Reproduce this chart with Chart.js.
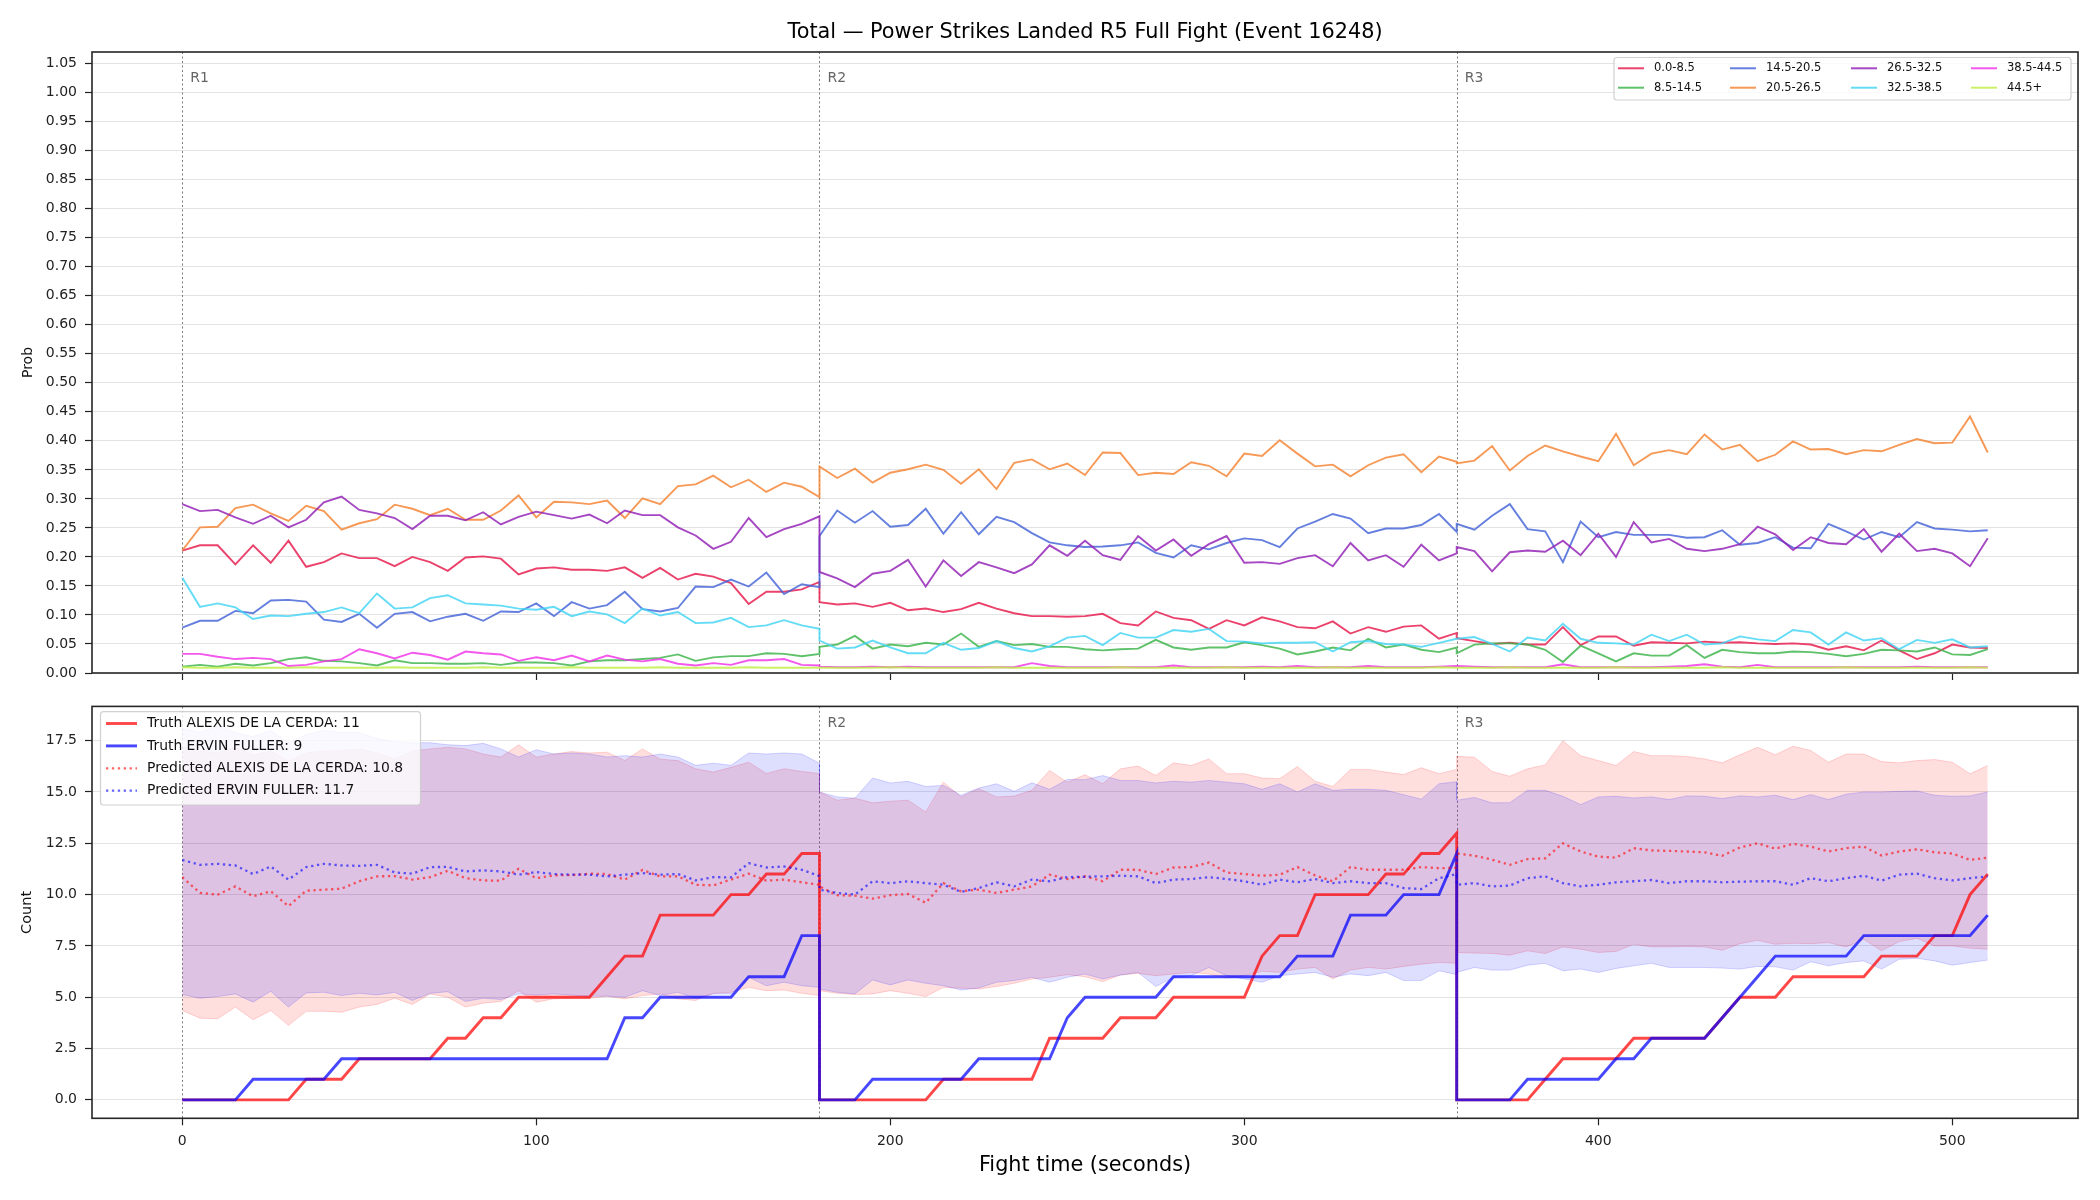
<!DOCTYPE html>
<html><head><meta charset="utf-8">
<script src="https://cdn.jsdelivr.net/npm/chart.js@4.4.1/dist/chart.umd.min.js"></script>
<style>
html,body{margin:0;padding:0;background:#fff;}
#wrap{position:relative;width:2100px;height:1200px;background:#fff;}
canvas{position:absolute;left:0;}
#c1{top:0;} #c2{top:690px;}
</style></head><body>
<div id="wrap"><canvas id="c1" width="2100" height="690"></canvas><canvas id="c2" width="2100" height="510"></canvas></div>
<script>
// ---------------- DATA ----------------
const TITLE = 'Total \u2014 Power Strikes Landed R5 Full Fight (Event 16248)';
const X_LABEL = 'Fight time (seconds)';
const Y_LABEL_TOP = 'Prob';
const Y_LABEL_BOTTOM = 'Count';
const ROUND_STARTS = [0, 180, 360];
const ROUND_LABELS = ['R1', 'R2', 'R3'];
const X_TICKS = [0, 100, 200, 300, 400, 500];
const PROB_TICKS = [0,0.05,0.1,0.15,0.2,0.25,0.3,0.35,0.4,0.45,0.5,0.55,0.6,0.65,0.7,0.75,0.8,0.85,0.9,0.95,1.0,1.05];
const COUNT_TICKS = [0, 2.5, 5, 7.5, 10, 12.5, 15, 17.5];

const T_R1 = [0,5,10,15,20,25,30,35,40,45,50,55,60,65,70,75,80,85,90,95,100,105,110,115,120,125,130,135,140,145,150,155,160,165,170,175,180];
const T_R2 = [180,185,190,195,200,205,210,215,220,225,230,235,240,245,250,255,260,265,270,275,280,285,290,295,300,305,310,315,320,325,330,335,340,345,350,355,360];
const T_R3 = [360,365,370,375,380,385,390,395,400,405,410,415,420,425,430,435,440,445,450,455,460,465,470,475,480,485,490,495,500,505,510];

const BIN_LABELS = ['0.0-8.5','8.5-14.5','14.5-20.5','20.5-26.5','26.5-32.5','32.5-38.5','38.5-44.5','44.5+'];

const BIN_0_8 = [
 .211,.220,.220,.187,.220,.190,.228,.183,.191,.206,.198,.198,.184,.200,.191,.176,.199,.201,.197,.170,.180,.182,.178,.178,.176,.182,.164,.181,.161,.171,.166,.155,.119,.140,.140,.144,.157,
 .122,.118,.120,.114,.121,.108,.111,.105,.110,.121,.111,.103,.098,.098,.097,.098,.102,.086,.082,.106,.095,.091,.076,.091,.082,.096,.089,.079,.077,.089,.068,.079,.071,.080,.082,.059,.069,
 .060,.055,.050,.052,.049,.049,.079,.048,.063,.063,.047,.053,.052,.051,.054,.052,.053,.051,.050,.051,.049,.040,.046,.039,.056,.039,.024,.034,.049,.044,.043];
const BIN_8_14 = [
 .011,.014,.011,.016,.013,.017,.024,.027,.021,.020,.017,.013,.022,.017,.017,.016,.016,.017,.014,.018,.018,.017,.013,.020,.022,.022,.024,.026,.032,.021,.027,.029,.029,.034,.033,.029,.033,
 .045,.049,.064,.042,.049,.046,.052,.049,.068,.045,.055,.048,.050,.045,.045,.041,.039,.041,.042,.057,.044,.040,.044,.044,.053,.048,.042,.032,.037,.044,.039,.059,.044,.049,.040,.036,.044,
 .034,.049,.051,.051,.049,.040,.019,.047,.034,.020,.034,.030,.030,.048,.026,.040,.036,.034,.034,.037,.036,.033,.029,.033,.040,.039,.037,.044,.032,.031,.041];
const BIN_14_20 = [
 .078,.090,.090,.107,.103,.125,.126,.123,.092,.088,.102,.078,.102,.105,.089,.097,.102,.090,.106,.105,.120,.098,.122,.111,.117,.140,.110,.106,.112,.149,.148,.161,.149,.173,.136,.153,.148,
 .236,.280,.259,.279,.252,.255,.283,.240,.277,.239,.269,.260,.241,.225,.220,.217,.218,.220,.225,.207,.199,.220,.213,.224,.232,.229,.217,.249,.261,.274,.266,.241,.249,.249,.255,.274,.243,
 .257,.247,.271,.291,.248,.244,.191,.261,.234,.243,.238,.238,.238,.233,.234,.246,.221,.224,.234,.216,.215,.257,.244,.230,.243,.234,.260,.249,.247,.244,.246];
const BIN_20_26 = [
 .211,.251,.252,.284,.290,.275,.262,.288,.279,.247,.258,.265,.290,.283,.272,.283,.264,.264,.280,.306,.268,.295,.294,.291,.297,.267,.301,.291,.322,.325,.340,.320,.333,.312,.328,.321,.303,
 .356,.336,.352,.328,.345,.351,.359,.350,.326,.351,.317,.362,.368,.351,.361,.341,.380,.379,.341,.345,.343,.363,.357,.339,.378,.374,.401,.378,.356,.359,.339,.358,.371,.377,.346,.373,.364,
 .361,.366,.391,.349,.374,.392,.382,.373,.365,.412,.358,.378,.384,.377,.411,.385,.393,.365,.376,.399,.385,.386,.377,.384,.382,.393,.403,.396,.397,.442,.380];
const BIN_26_32 = [
 .291,.279,.281,.268,.257,.271,.251,.264,.294,.304,.281,.275,.267,.248,.271,.271,.263,.277,.256,.269,.278,.272,.266,.273,.258,.280,.272,.272,.251,.237,.214,.226,.267,.234,.248,.257,.270,
 .174,.163,.148,.171,.176,.195,.149,.194,.167,.191,.182,.172,.187,.220,.202,.228,.203,.195,.236,.211,.230,.202,.222,.236,.190,.191,.188,.198,.203,.184,.224,.194,.203,.183,.221,.194,.206,
 .217,.210,.175,.208,.211,.209,.228,.203,.240,.200,.260,.225,.231,.214,.210,.214,.222,.252,.239,.212,.234,.224,.222,.248,.209,.240,.210,.214,.206,.184,.232];
const BIN_32_38 = [
 .164,.114,.120,.113,.093,.099,.098,.102,.105,.113,.103,.137,.111,.113,.129,.134,.120,.118,.116,.111,.109,.114,.098,.106,.101,.086,.111,.099,.105,.086,.087,.095,.079,.082,.091,.082,.076,
 .056,.042,.044,.056,.044,.034,.034,.052,.040,.043,.055,.043,.037,.046,.061,.064,.048,.069,.061,.061,.074,.071,.076,.055,.054,.051,.052,.052,.053,.037,.053,.055,.050,.049,.045,.052,.059,
 .059,.062,.050,.037,.061,.056,.085,.059,.052,.051,.049,.066,.055,.066,.049,.051,.063,.058,.055,.074,.070,.049,.070,.056,.060,.041,.057,.052,.058,.044,.046];
const BIN_38_44 = [
 .033,.033,.028,.024,.026,.024,.012,.014,.020,.024,.041,.034,.025,.035,.031,.023,.037,.034,.032,.021,.027,.022,.030,.020,.030,.023,.020,.024,.016,.013,.017,.014,.022,.022,.024,.014,.013,
 .011,.010,.010,.011,.010,.011,.010,.010,.010,.010,.010,.010,.017,.012,.010,.010,.010,.010,.010,.010,.013,.010,.010,.010,.010,.011,.010,.012,.010,.010,.010,.012,.010,.010,.010,.011,.012,
 .012,.011,.010,.010,.010,.010,.015,.010,.010,.010,.010,.010,.011,.012,.015,.011,.010,.014,.010,.010,.010,.010,.010,.010,.010,.010,.011,.010,.010,.010,.010];
const BIN_44P = [
 .010,.009,.009,.010,.009,.009,.009,.010,.009,.009,.009,.009,.010,.009,.009,.009,.009,.010,.009,.009,.009,.009,.010,.009,.009,.009,.009,.010,.009,.009,.009,.009,.010,.009,.009,.009,.009,
 .009,.009,.009,.009,.010,.009,.009,.009,.009,.009,.010,.009,.009,.009,.009,.009,.009,.010,.009,.009,.009,.009,.009,.010,.009,.009,.009,.009,.009,.010,.009,.009,.009,.009,.009,.010,.009,
 .009,.009,.009,.010,.009,.009,.009,.009,.009,.010,.009,.009,.009,.009,.009,.010,.009,.009,.009,.009,.009,.009,.010,.009,.009,.009,.009,.009,.009,.010,.009];

const FIGHTER_A = 'ALEXIS DE LA CERDA';
const FIGHTER_B = 'ERVIN FULLER';
const LEGEND_BOTTOM = ['Truth ALEXIS DE LA CERDA: 11','Truth ERVIN FULLER: 9','Predicted ALEXIS DE LA CERDA: 10.8','Predicted ERVIN FULLER: 11.7'];

const TRUTH_A = [
 0,0,0,0,0,0,0,1,1,1,2,2,2,2,2,3,3,4,4,5,5,5,5,5,6,7,7,9,9,9,9,10,10,11,11,12,12,
 0,0,0,0,0,0,0,1,1,1,1,1,1,3,3,3,3,4,4,4,5,5,5,5,5,7,8,8,10,10,10,10,11,11,12,12,13,
 0,0,0,0,0,1,2,2,2,2,3,3,3,3,3,4,5,5,5,6,6,6,6,6,7,7,7,8,8,10,11];
const TRUTH_B = [
 0,0,0,0,1,1,1,1,1,2,2,2,2,2,2,2,2,2,2,2,2,2,2,2,2,4,4,5,5,5,5,5,6,6,6,8,8,
 0,0,0,1,1,1,1,1,1,2,2,2,2,2,4,5,5,5,5,5,6,6,6,6,6,6,6,7,7,7,9,9,9,10,10,10,12,
 0,0,0,0,1,1,1,1,1,2,2,3,3,3,3,4,5,6,7,7,7,7,7,8,8,8,8,8,8,8,9];
const PRED_A = [
 10.85,10.08,10.0,10.4,9.92,10.16,9.44,10.19,10.24,10.29,10.65,10.89,10.9,10.73,10.85,11.16,10.8,10.69,10.68,11.26,10.8,10.94,10.95,11.02,11.0,10.73,11.2,10.89,10.89,10.48,10.45,10.73,11.02,10.68,10.73,10.6,10.48,
 10.4,9.97,9.95,9.8,9.97,10.03,9.6,10.56,10.16,10.24,10.08,10.24,10.4,10.97,10.76,10.89,10.65,11.21,11.21,11.0,11.32,11.34,11.56,11.08,11.0,10.92,10.97,11.34,10.94,10.65,11.34,11.21,11.21,11.21,11.34,11.29,11.3,
 12.0,11.9,11.7,11.45,11.73,11.77,12.5,12.1,11.85,11.8,12.26,12.15,12.13,12.1,12.06,11.89,12.3,12.5,12.24,12.47,12.34,12.1,12.26,12.34,11.9,12.1,12.21,12.06,12.0,11.69,11.8];
const PRED_B = [
 11.69,11.45,11.5,11.42,11.0,11.37,10.73,11.34,11.5,11.42,11.4,11.45,11.08,11.02,11.34,11.35,11.13,11.18,11.13,10.97,11.1,11.0,10.97,10.97,10.89,10.97,11.05,10.97,11.0,10.69,10.85,10.84,11.53,11.32,11.37,11.21,10.9,
 10.24,10.08,10.0,10.65,10.56,10.65,10.56,10.48,10.13,10.32,10.6,10.4,10.73,10.65,10.85,10.87,10.89,10.92,10.89,10.56,10.73,10.76,10.85,10.76,10.65,10.48,10.73,10.6,10.76,10.56,10.65,10.56,10.56,10.32,10.27,10.8,11.0,
 10.48,10.56,10.4,10.44,10.8,10.89,10.56,10.4,10.48,10.6,10.65,10.71,10.56,10.65,10.65,10.6,10.63,10.65,10.65,10.48,10.8,10.65,10.8,10.92,10.68,10.97,11.02,10.8,10.69,10.8,10.89];
const HI_A = [
 17.2,17.0,16.9,17.2,16.8,17.0,16.5,16.9,17.0,17.0,17.1,16.9,16.6,17.0,17.1,17.18,17.1,16.85,16.7,17.3,16.7,16.85,16.97,16.9,16.94,16.53,17.1,16.6,16.53,16.13,15.97,16.2,16.45,15.9,16.13,16.0,15.9,
 15.0,14.6,14.7,14.47,14.55,14.6,14.03,15.48,14.76,15.16,14.76,14.8,15.08,16.05,15.48,15.84,15.4,16.13,16.26,15.8,16.42,16.29,16.61,15.89,15.89,15.68,15.65,16.24,15.52,15.27,16.1,16.1,15.97,15.85,16.18,15.89,16.1,
 16.74,16.69,16.0,15.77,16.13,16.32,17.5,16.77,16.53,16.29,16.97,16.77,16.77,16.73,16.61,16.42,16.81,17.18,16.81,17.23,17.02,16.45,16.85,16.85,16.48,16.42,16.53,16.58,16.45,15.89,16.29];
const LO_A = [
 4.35,3.98,3.95,4.52,3.9,4.35,3.63,4.31,4.32,4.27,4.52,4.65,4.95,4.65,5.16,5.0,4.52,4.71,4.79,5.32,4.76,4.92,4.95,4.95,5.05,4.92,5.08,5.16,4.92,4.84,5.19,5.24,5.48,5.32,5.35,5.19,5.08,
 5.32,5.19,5.13,5.16,5.32,5.19,5.03,5.48,5.44,5.4,5.52,5.68,5.89,5.97,6.1,6.0,5.76,6.08,6.16,6.05,6.13,6.21,6.13,5.94,6.05,6.26,6.21,6.37,6.45,5.89,6.32,6.45,6.37,6.5,6.61,6.69,6.65,
 7.18,7.15,7.13,7.05,7.26,7.13,7.45,7.34,7.18,7.23,7.58,7.45,7.45,7.47,7.45,7.29,7.61,7.77,7.58,7.63,7.61,7.66,7.45,7.82,7.26,7.71,7.87,7.5,7.5,7.39,7.34];
const HI_B = [
 18.1,17.9,18.2,17.9,17.7,18.0,17.4,17.8,18.0,17.9,17.9,17.6,17.45,17.4,17.4,17.3,17.26,17.37,17.1,16.7,17.06,16.85,16.9,16.85,16.7,16.77,16.7,16.85,16.7,16.3,16.4,16.3,16.9,16.85,16.9,16.85,16.4,
 15.0,14.76,14.7,15.68,15.44,15.52,15.27,15.32,14.84,15.19,15.4,15.03,15.45,15.13,15.61,15.6,15.8,15.56,15.56,15.44,15.52,15.48,15.56,15.48,15.4,15.13,15.4,15.0,15.4,15.08,15.13,15.13,15.08,14.87,14.65,15.4,15.5,
 14.6,14.73,14.47,14.48,15.08,15.08,14.79,14.39,14.76,14.79,14.71,14.76,14.63,14.81,14.79,14.68,14.81,14.76,14.84,14.63,14.87,14.63,14.89,15.0,15.0,15.03,15.05,14.84,14.79,14.81,15.0];
const LO_B = [
 5.13,4.95,5.03,5.16,4.76,5.29,4.52,5.21,5.24,5.08,5.19,5.11,5.24,4.84,5.19,5.27,4.79,4.95,4.89,5.16,5.11,5.16,5.1,5.05,5.05,5.0,5.32,5.08,5.24,4.95,5.16,5.16,5.97,5.56,5.73,5.56,5.48,
 5.4,5.24,5.16,5.84,5.6,5.84,5.68,5.56,5.35,5.45,5.73,5.81,5.97,5.73,5.97,6.13,5.89,6.08,6.21,5.52,5.97,6.05,6.45,6.05,5.89,5.73,6.05,6.13,6.21,5.97,6.13,6.05,6.21,5.81,5.81,6.29,6.1,
 6.21,6.45,6.32,6.32,6.56,6.65,6.29,6.37,6.21,6.4,6.53,6.65,6.45,6.45,6.45,6.42,6.37,6.5,6.48,6.32,6.73,6.53,6.69,6.77,6.37,6.85,6.9,6.77,6.56,6.69,6.81];

// ---------------- BUILD ----------------
const T = T_R1.concat(T_R2, T_R3);
const xy = ys => T.map((t, i) => ({x: t, y: ys[i]}));
const FONT = "'DejaVu Sans', 'Liberation Sans', sans-serif";
const BIN_SERIES = [BIN_0_8, BIN_8_14, BIN_14_20, BIN_20_26, BIN_26_32, BIN_32_38, BIN_38_44, BIN_44P];
const BIN_COLORS = ['rgba(230,25,75,0.82)','rgba(60,180,75,0.82)','rgba(67,99,216,0.82)','rgba(245,130,49,0.82)',
                    'rgba(145,30,180,0.82)','rgba(66,212,244,0.82)','rgba(240,50,230,0.82)','rgba(191,239,69,0.82)'];

function drawFrame(chart){
  const {ctx, chartArea: a} = chart;
  ctx.save(); ctx.strokeStyle = '#262626'; ctx.lineWidth = 1.6; ctx.setLineDash([]);
  ctx.strokeRect(a.left, a.top, a.right - a.left, a.bottom - a.top); ctx.restore();
}
function drawRoundLines(chart){
  const {ctx, chartArea: a} = chart; const xs = chart.scales.x;
  ctx.save(); ctx.strokeStyle = 'rgba(80,80,80,0.75)'; ctx.lineWidth = 1; ctx.setLineDash([2, 2.5]);
  ROUND_STARTS.forEach(t => { const px = Math.round(xs.getPixelForValue(t)) + 0.5;
    ctx.beginPath(); ctx.moveTo(px, a.top); ctx.lineTo(px, a.bottom); ctx.stroke(); });
  ctx.restore();
}
function drawRoundLabels(chart, yc, skipFirst){
  const {ctx} = chart; const xs = chart.scales.x;
  ctx.save(); ctx.fillStyle = '#666'; ctx.font = '14px ' + FONT; ctx.textBaseline = 'middle'; ctx.textAlign = 'left';
  ROUND_STARTS.forEach((t, i) => { if (skipFirst && i === 0) return; ctx.fillText(ROUND_LABELS[i], xs.getPixelForValue(t) + 8, yc); });
  ctx.restore();
}
function vText(ctx, text, x, y, size){
  ctx.save(); ctx.translate(x, y); ctx.rotate(-Math.PI/2); ctx.fillStyle = '#111';
  ctx.font = size + 'px ' + FONT; ctx.textAlign = 'center'; ctx.textBaseline = 'middle'; ctx.fillText(text, 0, 0); ctx.restore();
}
function legendBox(ctx, x, y, w, h){
  ctx.save(); ctx.fillStyle = 'rgba(255,255,255,0.8)'; ctx.strokeStyle = 'rgba(204,204,204,0.9)'; ctx.lineWidth = 1.2;
  ctx.beginPath(); ctx.roundRect(x, y, w, h, 3); ctx.fill(); ctx.stroke(); ctx.restore();
}

// ---------------- TOP CHART ----------------
const topPlugin = {
  id: 'topDeco',
  beforeDatasetsDraw(chart){ drawRoundLines(chart); },
  afterDatasetsDraw(chart){ drawRoundLabels(chart, 78.5, false); },
  afterDraw(chart){
    const ctx = chart.ctx; const a = chart.chartArea;
    drawFrame(chart);
    ctx.save(); ctx.fillStyle = '#000'; ctx.font = '20.8px ' + FONT; ctx.textAlign = 'center'; ctx.textBaseline = 'middle';
    ctx.fillText(TITLE, (a.left + a.right) / 2, 33); ctx.restore();
    vText(ctx, Y_LABEL_TOP, 28, (a.top + a.bottom) / 2, 14);
    // legend (4 columns, column-major like the reference)
    legendBox(ctx, 1614, 57.5, 457, 42.5);
    const colX = [1618, 1730, 1851, 1971], rowY = [68.3, 87.7];
    chart.data.datasets.forEach((ds, i) => {
      const c = Math.floor(i / 2), r = i % 2; const x = colX[c], y = rowY[r];
      ctx.save(); ctx.strokeStyle = ds.borderColor; ctx.lineWidth = 2; ctx.beginPath(); ctx.moveTo(x, y); ctx.lineTo(x + 26, y); ctx.stroke();
      ctx.fillStyle = '#111'; ctx.font = '11.5px ' + FONT; ctx.textBaseline = 'middle'; ctx.fillText(ds.label, x + 36, y); ctx.restore();
    });
  }
};

new Chart(document.getElementById('c1'), {
  type: 'line',
  data: { datasets: BIN_SERIES.map((s, i) => ({
    label: BIN_LABELS[i], data: xy(s), borderColor: BIN_COLORS[i], backgroundColor: BIN_COLORS[i],
    borderWidth: 1.9, pointRadius: 0, tension: 0, fill: false, order: BIN_SERIES.length - i })) },
  options: {
    responsive: false, animation: false, devicePixelRatio: 1, events: [],
    layout: { padding: { top: 52, left: 0, right: 22, bottom: 0 } },
    plugins: { legend: { display: false }, tooltip: { enabled: false }, title: { display: false } },
    scales: {
      x: { type: 'linear', min: -25.5, max: 535.5, bounds: 'data',
        afterBuildTicks: s => { s.ticks = X_TICKS.map(v => ({value: v})); },
        afterFit: s => { s.height = 17; },
        grid: { drawOnChartArea: false, drawTicks: true, tickLength: 7, tickColor: '#222', tickWidth: 1.2 },
        border: { display: false }, ticks: { display: false } },
      y: { type: 'linear', min: 0, max: 1.07, bounds: 'data',
        afterBuildTicks: s => { s.ticks = PROB_TICKS.map(v => ({value: v})); },
        afterFit: s => { s.width = 92; },
        grid: { color: '#e3e3e3', lineWidth: 1, tickLength: 7, tickColor: '#222', tickWidth: 1.2 },
        border: { display: false },
        ticks: { padding: 8, color: '#222', font: { family: FONT, size: 14 }, callback: v => Number(v).toFixed(2) } }
    }
  },
  plugins: [topPlugin]
});

// ---------------- BOTTOM CHART ----------------
const RED_LINE = 'rgba(255,0,0,0.72)', BLUE_LINE = 'rgba(0,0,255,0.72)';
const RED_PRED = 'rgba(255,0,0,0.6)', BLUE_PRED = 'rgba(0,0,255,0.6)';
const bottomDatasets = [
  { label: LEGEND_BOTTOM[0], data: xy(TRUTH_A), borderColor: RED_LINE, borderWidth: 2.9, order: 3 },
  { label: LEGEND_BOTTOM[1], data: xy(TRUTH_B), borderColor: BLUE_LINE, borderWidth: 2.9, order: 2 },
  { label: LEGEND_BOTTOM[2], data: xy(PRED_A), borderColor: RED_PRED, borderWidth: 2.3, borderDash: [2.3, 3.6], order: 1 },
  { label: LEGEND_BOTTOM[3], data: xy(PRED_B), borderColor: BLUE_PRED, borderWidth: 2.3, borderDash: [2.3, 3.6], order: 0 },
  { label: FIGHTER_A + ' hi', data: xy(HI_A), borderColor: 'rgba(255,0,0,0.16)', borderWidth: 1, backgroundColor: 'rgba(255,0,0,0.13)', fill: 5, order: 9 },
  { label: FIGHTER_A + ' lo', data: xy(LO_A), borderColor: 'rgba(255,0,0,0.16)', borderWidth: 1, order: 8 },
  { label: FIGHTER_B + ' hi', data: xy(HI_B), borderColor: 'rgba(0,0,255,0.16)', borderWidth: 1, backgroundColor: 'rgba(0,0,255,0.13)', fill: 7, order: 7 },
  { label: FIGHTER_B + ' lo', data: xy(LO_B), borderColor: 'rgba(0,0,255,0.16)', borderWidth: 1, order: 6 }
].map(d => Object.assign({ pointRadius: 0, tension: 0, fill: false }, d));

const bottomPlugin = {
  id: 'bottomDeco',
  beforeDatasetsDraw(chart){ drawRoundLines(chart); },
  afterDatasetsDraw(chart){ drawRoundLabels(chart, 33.5, true); },
  afterDraw(chart){
    const ctx = chart.ctx; const a = chart.chartArea;
    drawFrame(chart);
    vText(ctx, Y_LABEL_BOTTOM, 27, (a.top + a.bottom) / 2, 14.5);
    ctx.save(); ctx.fillStyle = '#000'; ctx.font = '20.8px ' + FONT; ctx.textAlign = 'center'; ctx.textBaseline = 'middle';
    ctx.fillText(X_LABEL, (a.left + a.right) / 2, 476); ctx.restore();
    legendBox(ctx, 100.5, 21.7, 320, 93.3);
    for (let i = 0; i < 4; i++) {
      const ds = chart.data.datasets[i]; const y = 33.5 + 22.4 * i;
      ctx.save(); ctx.strokeStyle = ds.borderColor; ctx.lineWidth = ds.borderWidth; ctx.setLineDash(ds.borderDash || []);
      ctx.beginPath(); ctx.moveTo(106, y); ctx.lineTo(137, y); ctx.stroke(); ctx.setLineDash([]);
      ctx.fillStyle = '#111'; ctx.font = '13.9px ' + FONT; ctx.textBaseline = 'middle'; ctx.fillText(ds.label, 147, y); ctx.restore();
    }
  }
};

new Chart(document.getElementById('c2'), {
  type: 'line',
  data: { datasets: bottomDatasets },
  options: {
    responsive: false, animation: false, devicePixelRatio: 1, events: [],
    layout: { padding: { top: 13.3, left: 0, right: 22, bottom: 0 } },
    plugins: { legend: { display: false }, tooltip: { enabled: false }, title: { display: false }, filler: { propagate: false } },
    scales: {
      x: { type: 'linear', min: -25.5, max: 535.5, bounds: 'data',
        afterBuildTicks: s => { s.ticks = X_TICKS.map(v => ({value: v})); },
        afterFit: s => { s.height = 81.7; },
        grid: { drawOnChartArea: false, drawTicks: true, tickLength: 7, tickColor: '#222', tickWidth: 1.2 },
        border: { display: false },
        ticks: { padding: 8, color: '#222', font: { family: FONT, size: 14 }, maxRotation: 0, callback: v => String(v) } },
      y: { type: 'linear', min: -0.9, max: 19.17, bounds: 'data',
        afterBuildTicks: s => { s.ticks = COUNT_TICKS.map(v => ({value: v})); },
        afterFit: s => { s.width = 92; },
        grid: { color: '#e3e3e3', lineWidth: 1, tickLength: 7, tickColor: '#222', tickWidth: 1.2 },
        border: { display: false },
        ticks: { padding: 8, color: '#222', font: { family: FONT, size: 14 }, callback: v => Number(v).toFixed(1) } }
    }
  },
  plugins: [bottomPlugin]
});
</script>
</body></html>
